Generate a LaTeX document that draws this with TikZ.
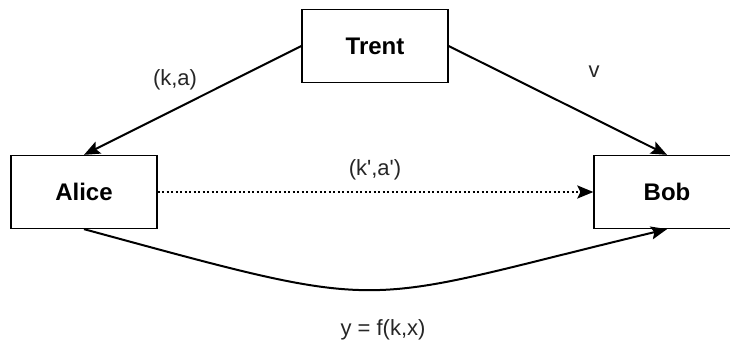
\documentclass[tikz,border=0pt]{standalone}
\usepackage{fontspec}
\setmainfont{Liberation Sans}
\usetikzlibrary{arrows.meta,positioning}

\begin{document}
\begin{tikzpicture}[
  x=1pt, y=-1pt,
  party/.style={draw, line width=1.3pt, minimum width=146pt, minimum height=73pt, inner sep=0pt, font=\fontsize{24}{28}\selectfont\bfseries},
  lbl/.style={font=\fontsize{22}{26}\selectfont, text=black!85, inner sep=0pt},
  arr/.style={-{Stealth[length=16pt,width=13pt,inset=3pt]}, line width=2pt}
]
\useasboundingbox (0,0) rectangle (730,347);
\clip (0,0) rectangle (730,347);
\node[party] (trent) at (375,46) {Trent};
\node[party] (alice) at (84,192) {Alice};
\node[party] (bob) at (667,192) {Bob};
% labels
\node[lbl] (ka) at (175,80) {(k,a)};
\node[lbl] (v) at (594,72) {v};
\node[lbl] (kaprime) at (375,170) {(k\textquotesingle,a\textquotesingle)};
\node[lbl] (yfkx) at (383,330) {y = f(k,x)};
% connectors
\draw[arr] (trent.west) -- (alice.north);
\draw[arr] (trent.east) -- (bob.north);
\draw[arr, dash pattern=on 2pt off 2.5pt] (alice.east) -- (bob.west);
\draw[arr] (alice.south) .. controls (400,315) and (350,305) .. (bob.south);
\end{tikzpicture}
\end{document}
